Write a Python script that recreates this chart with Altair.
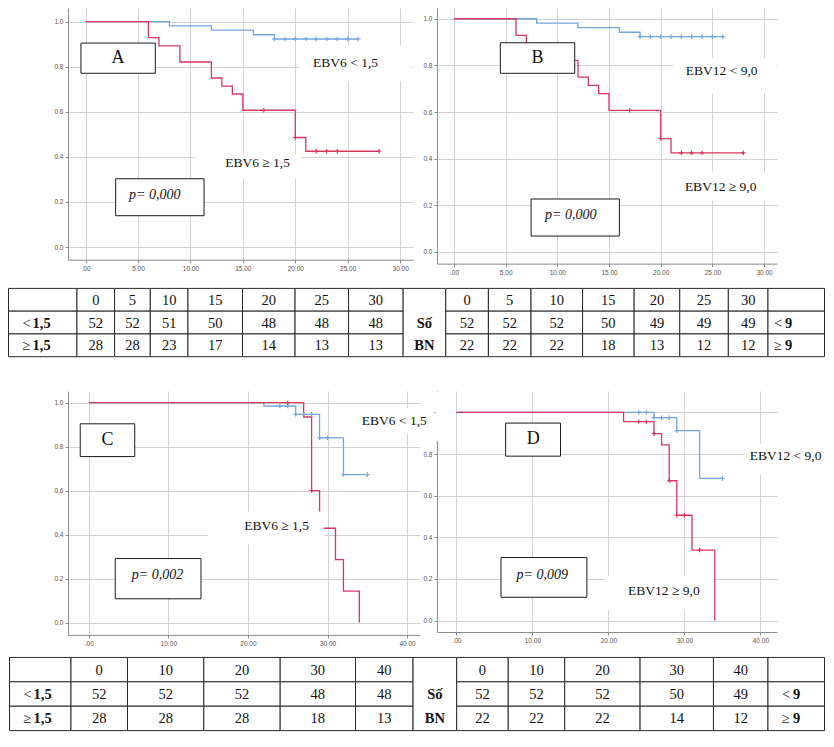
import altair as alt
import pandas as pd

# ------------------------------------------------------------------ data
# Panel A (EBV6, time 0-30)
A_LOW_T = [0, 8, 12, 16, 18, 26]
A_LOW_S = [1.0, 0.981, 0.962, 0.942, 0.923, 0.923]
A_LOW_CT = [18, 19, 20, 21, 22, 23, 24, 25, 26]
A_LOW_CS = [0.923, 0.923, 0.923, 0.923, 0.923, 0.923, 0.923, 0.923, 0.923]
A_HIGH_T = [0, 6, 7, 9, 12, 13, 14, 15, 20, 21, 28]
A_HIGH_S = [1.0, 0.929, 0.893, 0.821, 0.75, 0.714, 0.679, 0.607, 0.486, 0.425, 0.425]
A_HIGH_CT = [17, 20, 22, 23, 24, 28]
A_HIGH_CS = [0.607, 0.486, 0.425, 0.425, 0.425, 0.425]

# Panel B (EBV12, time 0-30)
B_LOW_T = [0, 8, 12, 16, 18, 26]
B_LOW_S = [1.0, 0.981, 0.962, 0.942, 0.923, 0.923]
B_LOW_CT = [18, 19, 20, 21, 22, 23, 24, 25, 26]
B_LOW_CS = [0.923, 0.923, 0.923, 0.923, 0.923, 0.923, 0.923, 0.923, 0.923]
B_HIGH_T = [0, 6, 7, 9, 12, 13, 14, 15, 20, 21, 28]
B_HIGH_S = [1.0, 0.929, 0.893, 0.821, 0.75, 0.714, 0.679, 0.607, 0.486, 0.425, 0.425]
B_HIGH_CT = [17, 20, 22, 23, 24, 28]
B_HIGH_CS = [0.607, 0.486, 0.425, 0.425, 0.425, 0.425]

# Panel C (EBV6, time 0-40)
C_LOW_T = [0, 22, 26, 29, 32, 35]
C_LOW_S = [1.0, 0.985, 0.947, 0.84, 0.673, 0.673]
C_LOW_CT = [24, 25, 26, 27, 28, 29, 30, 32, 35]
C_LOW_CS = [0.985, 0.985, 0.947, 0.947, 0.947, 0.84, 0.84, 0.673, 0.673]
C_HIGH_T = [0, 27, 28, 29, 31, 32, 34]
C_HIGH_S = [1.0, 0.935, 0.6, 0.429, 0.286, 0.143, 0.0]
C_HIGH_CT = [25, 28]
C_HIGH_CS = [1.0, 0.6]

# Panel D (EBV12, time 0-40)
D_LOW_T = [0, 26, 29, 32, 35]
D_LOW_S = [1.0, 0.975, 0.913, 0.683, 0.683]
D_LOW_CT = [24, 25, 26, 27, 28, 29, 35]
D_LOW_CS = [1.0, 1.0, 0.975, 0.975, 0.975, 0.913, 0.683]
D_HIGH_T = [0, 22, 26, 27, 28, 29, 31, 34]
D_HIGH_S = [1.0, 0.956, 0.898, 0.844, 0.672, 0.506, 0.339, 0.0]
D_HIGH_CT = [24, 25, 26, 28, 29, 30, 32]
D_HIGH_CS = [0.956, 0.956, 0.898, 0.672, 0.506, 0.506, 0.339]

# Number-at-risk tables
T1_TIMES = [0, 5, 10, 15, 20, 25, 30]
T1_EBV6_LOW = [52, 52, 51, 50, 48, 48, 48]
T1_EBV6_HIGH = [28, 28, 23, 17, 14, 13, 13]
T1_EBV12_LOW = [52, 52, 52, 50, 49, 49, 49]
T1_EBV12_HIGH = [22, 22, 22, 18, 13, 12, 12]
T2_TIMES = [0, 10, 20, 30, 40]
T2_EBV6_LOW = [52, 52, 52, 48, 48]
T2_EBV6_HIGH = [28, 28, 28, 18, 13]
T2_EBV12_LOW = [52, 52, 52, 50, 49]
T2_EBV12_HIGH = [22, 22, 22, 14, 12]
LEFT_SYMS = ["<", "≥"]
LEFT_CUT = "1,5"
RIGHT_SYMS = ["<", "≥"]
RIGHT_CUT = "9"
MID_WORDS = ["Số", "BN"]

# ------------------------------------------------------------------ style
BLUE = "#72a6df"
RED = "#dc3660"
GRID = "#d2d2d2"
AXC = "#8a8a8a"
SERIF = "Liberation Serif"
SANS = "Liberation Sans"
PLUS = "M-1,0L1,0M0,-1L0,1"
GAP = 17

# ------------------------------------------------------------------ layout helpers (reference pixel frame -> page)
SX = 816 / 823
SY = 722 / 740


def tx(v):
    return 8 + (v - 5) * SX


def ty(v):
    return 8 + (v - 5) * SY


def frame(g, left_page, top_page):
    right_page = tx(g["right"])
    bottom_page = ty(g["bottom"])
    w = right_page - left_page
    h = bottom_page - top_page
    ppx = (tx(g["xb_px"]) - tx(g["xa_px"])) / g["xb"]
    x0p = tx(g["xa_px"])
    xdom = [(left_page - x0p) / ppx, (right_page - x0p) / ppx]
    ppy = ty(g["y0_px"]) - ty(g["y1_px"])
    ydom = [-(bottom_page - ty(g["y0_px"])) / ppy, 1 + (ty(g["y1_px"]) - top_page) / ppy]
    return w, h, xdom, ydom


GEO_A = dict(right=413, bottom=263, xa_px=82.7, xb=30, xb_px=400, y1_px=19, y0_px=250)
GEO_B = dict(right=773, bottom=267, xa_px=447.3, xb=30, xb_px=760, y1_px=16, y0_px=255)
GEO_C = dict(right=420, bottom=647, xa_px=86, xb=40, xb_px=407, y1_px=409, y0_px=634.3)
GEO_D = dict(right=780, bottom=644, xa_px=456.7, xb=40, xb_px=763.3, y1_px=419, y0_px=632.3)

ORIGIN_X = tx(65)
ROW1_TOP = ty(5)
ROW2_TOP = ty(397)

wA, hA, xdA, ydA = frame(GEO_A, ORIGIN_X, ROW1_TOP)
wB, hB, xdB, ydB = frame(GEO_B, tx(GEO_A["right"]) + GAP, ROW1_TOP)
wC, hC, xdC, ydC = frame(GEO_C, ORIGIN_X, ROW2_TOP)
wD, hD, xdD, ydD = frame(GEO_D, tx(GEO_C["right"]) + GAP, ROW2_TOP)
row1_h = max(hA, hB)
row2_h = max(hC, hD)
T1_TOP = ROW1_TOP + row1_h
T1_H = ROW2_TOP - T1_TOP
T2_TOP = ROW2_TOP + row2_h
T2_H = ty(745) - T2_TOP

# annotation placement in data units of each panel
ANN_A = dict(box=[(-0.44, 6.65, 0.771, 0.905), (2.87, 11.3, 0.139, 0.303)],
             letter=(3.1, 0.838), p=(6.6, 0.232),
             bg=[(20.4, 31.1, 0.736, 0.896), (10.5, 20.6, 0.303, 0.411)],
             lab_low=(24.8, 0.818, "center"), lab_high=(16.4, 0.372, "center"))
ANN_B = dict(box=[(4.48, 11.68, 0.766, 0.897), (7.46, 16.0, 0.068, 0.227)],
             letter=(8.08, 0.833), p=(11.3, 0.16),
             bg=[(21.2, 31.2, 0.68, 0.83), (21.5, 31.2, 0.22, 0.345)],
             lab_low=(25.9, 0.774, "center"), lab_high=(25.8, 0.28, "center"))
ANN_C = dict(box=[(-1.08, 5.77, 0.755, 0.904), (3.32, 14.1, 0.108, 0.291)],
             letter=(2.34, 0.829), p=(8.64, 0.215),
             bg=[(33.9, 42.9, 0.86, 0.975), (15.0, 29.5, 0.355, 0.505)],
             lab_low=(38.4, 0.917, "center"), lab_high=(23.6, 0.441, "center"))
ANN_D = dict(box=[(6.48, 13.7, 0.79, 0.949), (5.87, 17.17, 0.112, 0.303)],
             letter=(10.1, 0.873), p=(11.3, 0.22),
             bg=[(38.0, 42.4, 0.70, 0.85), (19.7, 33.8, 0.05, 0.214), (-2.7, -0.05, 0.863, 1.10)],
             lab_low=(38.6, 0.79, "left"), lab_high=(27.3, 0.143, "center"))


def km_panel(low, high, low_c, high_c, texts, ann, w, h, xdom, ydom, xticks, hide_top=False):
    xs = alt.Scale(domain=xdom, nice=False, zero=False)
    ys = alt.Scale(domain=ydom, nice=False, zero=False)
    xax = alt.Axis(values=xticks, title="",
                   labelExpr="datum.value == 0 ? '.00' : format(datum.value, '.2f')",
                   grid=True, gridColor=GRID, gridWidth=1, domainColor=AXC, tickColor=AXC,
                   tickSize=3, labelFont=SANS, labelFontSize=6.5, labelColor="#555",
                   labelPadding=3, labelFlush=False)
    yexpr = "datum.value > 0.99 ? '' : format(datum.value, '.1f')" if hide_top else "format(datum.value, '.1f')"
    yax = alt.Axis(values=[0, 0.2, 0.4, 0.6, 0.8, 1.0], title="", labelExpr=yexpr,
                   grid=True, gridColor=GRID, gridWidth=1, domainColor=AXC, tickColor=AXC,
                   tickSize=3, labelFont=SANS, labelFontSize=6.5, labelColor="#555",
                   labelPadding=2, labelFlush=False)

    def X(f):
        return alt.X(f + ":Q", scale=xs, axis=xax)

    def Y(f):
        return alt.Y(f + ":Q", scale=ys, axis=yax)

    def df(t, s):
        return pd.DataFrame({"t": t, "s": s})

    layers = [
        alt.Chart(df(*low)).mark_line(interpolate="step-after", color=BLUE, strokeWidth=1.3).encode(x=X("t"), y=Y("s")),
        alt.Chart(df(*high)).mark_line(interpolate="step-after", color=RED, strokeWidth=1.3).encode(x=X("t"), y=Y("s")),
        alt.Chart(df(*low_c)).mark_point(shape=PLUS, color=BLUE, size=20, strokeWidth=1.2, filled=False, opacity=1).encode(x=X("t"), y=Y("s")),
        alt.Chart(df(*high_c)).mark_point(shape=PLUS, color=RED, size=20, strokeWidth=1.2, filled=False, opacity=1).encode(x=X("t"), y=Y("s")),
    ]
    bg = pd.DataFrame(ann["bg"], columns=["x", "x2", "y", "y2"])
    layers.append(alt.Chart(bg).mark_rect(color="white").encode(x=X("x"), x2=alt.X2("x2"), y=Y("y"), y2=alt.Y2("y2")))
    box = pd.DataFrame(ann["box"], columns=["x", "x2", "y", "y2"])
    layers.append(alt.Chart(box).mark_rect(fill="white", stroke="#1a1a1a", strokeWidth=1).encode(
        x=X("x"), x2=alt.X2("x2"), y=Y("y"), y2=alt.Y2("y2")))
    lt = pd.DataFrame([{"x": ann["letter"][0], "y": ann["letter"][1], "label": texts[0]}])
    layers.append(alt.Chart(lt).mark_text(font=SERIF, fontSize=18, color="#111", baseline="middle").encode(
        x=X("x"), y=Y("y"), text="label:N"))
    pt = pd.DataFrame([{"x": ann["p"][0], "y": ann["p"][1], "label": texts[1]}])
    layers.append(alt.Chart(pt).mark_text(font=SERIF, fontSize=14, fontStyle="italic", color="#111", baseline="middle").encode(
        x=X("x"), y=Y("y"), text="label:N"))
    for key, lab in (("lab_low", texts[2]), ("lab_high", texts[3])):
        x, y, al = ann[key]
        d = pd.DataFrame([{"x": x, "y": y, "label": lab}])
        layers.append(alt.Chart(d).mark_text(font=SERIF, fontSize=13.5, color="#111", align=al, baseline="middle").encode(
            x=X("x"), y=Y("y"), text="label:N"))
    return alt.layer(*layers).properties(width=w, height=h)


# table column edges (reference pixel frame)
T1_EDGES = [5, 74, 112, 148, 186, 241, 294, 348, 403, 446, 489, 532, 584, 636, 682, 731, 771, 828]
T2_EDGES = [6, 68, 125, 202, 279, 355, 413, 457, 509, 566, 642, 716, 771, 828]
TABLE_W = 346


def table_chart(edges, times, lvals, rvals, top_ref, bottom_ref, chart_top, chart_h, rdx):
    n = len(times)
    mid = n + 1
    rh = (ty(bottom_ref) - ty(top_ref)) / 3
    ydom = [(chart_top - ty(top_ref)) / rh, (chart_top + chart_h - ty(top_ref)) / rh]
    xs = alt.Scale(domain=[65, 65 + TABLE_W / SX], nice=False, zero=False)
    ys = alt.Scale(domain=ydom, nice=False, zero=False, reverse=True)

    def X(f):
        return alt.X(f + ":Q", scale=xs, axis=None)

    def Y(f):
        return alt.Y(f + ":Q", scale=ys, axis=None)

    cells = []
    for c in range(len(edges) - 1):
        if c == mid:
            cells.append({"x": edges[c], "x2": edges[c + 1], "y": 0, "y2": 3})
        else:
            for r in range(3):
                cells.append({"x": edges[c], "x2": edges[c + 1], "y": r, "y2": r + 1})
    nums = []
    for i, tv in enumerate(times):
        for c, col in ((1 + i, [tv, lvals[0][i], lvals[1][i]]), (mid + 1 + i, [tv, rvals[0][i], rvals[1][i]])):
            for r, v in enumerate(col):
                nums.append({"x": (edges[c] + edges[c + 1]) / 2, "y": r + 0.5, "label": str(v)})
    mids = [{"x": (edges[mid] + edges[mid + 1]) / 2, "y": 1.5 + k, "label": w} for k, w in enumerate(MID_WORDS)]
    lsym = [{"x": edges[0], "y": 1.5 + k, "label": s} for k, s in enumerate(LEFT_SYMS)]
    lcut = [{"x": edges[0], "y": 1.5 + k, "label": LEFT_CUT} for k in range(2)]
    rsym = [{"x": edges[-2], "y": 1.5 + k, "label": s} for k, s in enumerate(RIGHT_SYMS)]
    rcut = [{"x": edges[-2], "y": 1.5 + k, "label": RIGHT_CUT} for k in range(2)]

    def txt(rows, **kw):
        base = dict(font=SERIF, fontSize=14.5, color="#111", baseline="middle")
        base.update(kw)
        return alt.Chart(pd.DataFrame(rows)).mark_text(**base).encode(x=X("x"), y=Y("y"), text="label:N")

    layers = [
        alt.Chart(pd.DataFrame(cells)).mark_rect(fill="white", stroke="#2a2a2a", strokeWidth=1).encode(
            x=X("x"), x2=alt.X2("x2"), y=Y("y"), y2=alt.Y2("y2")),
        txt(nums, align="center", dy=1),
        txt(mids, align="center", fontWeight="bold", dy=1),
        txt(lsym, align="left", dx=14, dy=1),
        txt(lcut, align="left", dx=24, fontWeight="bold", dy=1),
        txt(rsym, align="left", dx=rdx, dy=1),
        txt(rcut, align="left", dx=rdx + 11, fontWeight="bold", dy=1),
    ]
    return alt.layer(*layers).properties(width=TABLE_W, height=chart_h)


def spacer():
    return alt.Chart(pd.DataFrame({"v": [0]})).mark_point(opacity=0, size=1).encode(
        x=alt.X("v:Q", axis=None), y=alt.Y("v:Q", axis=None)).properties(width=1, height=1)


pA = km_panel((A_LOW_T, A_LOW_S), (A_HIGH_T, A_HIGH_S), (A_LOW_CT, A_LOW_CS), (A_HIGH_CT, A_HIGH_CS),
              ["A", "p= 0,000", "EBV6 < 1,5", "EBV6 ≥ 1,5"], ANN_A, wA, hA, xdA, ydA, [0, 5, 10, 15, 20, 25, 30])
pB = km_panel((B_LOW_T, B_LOW_S), (B_HIGH_T, B_HIGH_S), (B_LOW_CT, B_LOW_CS), (B_HIGH_CT, B_HIGH_CS),
              ["B", "p= 0,000", "EBV12 < 9,0", "EBV12 ≥ 9,0"], ANN_B, wB, hB, xdB, ydB, [0, 5, 10, 15, 20, 25, 30])
pC = km_panel((C_LOW_T, C_LOW_S), (C_HIGH_T, C_HIGH_S), (C_LOW_CT, C_LOW_CS), (C_HIGH_CT, C_HIGH_CS),
              ["C", "p= 0,002", "EBV6 < 1,5", "EBV6 ≥ 1,5"], ANN_C, wC, hC, xdC, ydC, [0, 10, 20, 30, 40])
pD = km_panel((D_LOW_T, D_LOW_S), (D_HIGH_T, D_HIGH_S), (D_LOW_CT, D_LOW_CS), (D_HIGH_CT, D_HIGH_CS),
              ["D", "p= 0,009", "EBV12 < 9,0", "EBV12 ≥ 9,0"], ANN_D, wD, hD, xdD, ydD, [0, 10, 20, 30, 40],
              hide_top=True)

t1 = table_chart(T1_EDGES, T1_TIMES, (T1_EBV6_LOW, T1_EBV6_HIGH), (T1_EBV12_LOW, T1_EBV12_HIGH),
                 292, 362, T1_TOP, T1_H, 6)
t2 = table_chart(T2_EDGES, T2_TIMES, (T2_EBV6_LOW, T2_EBV6_HIGH), (T2_EBV12_LOW, T2_EBV12_HIGH),
                 670, 745, T2_TOP, T2_H, 14)

chart = alt.concat(
    pA, pB, t1, spacer(), pC, pD, t2, spacer(),
    columns=2,
    spacing={"row": 0, "column": GAP},
    bounds="flush",
    align={"row": "each", "column": "none"},
).properties(padding=0, background="white").configure_view(strokeWidth=0)

chart.save("out.html", embed_options={"renderer": "svg", "actions": False})
